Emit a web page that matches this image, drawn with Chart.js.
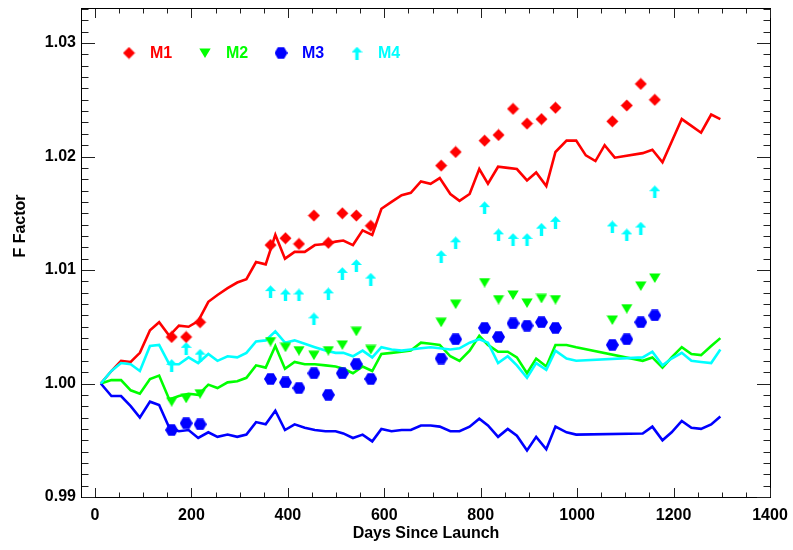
<!DOCTYPE html>
<html><head><meta charset="utf-8">
<script src="https://cdn.jsdelivr.net/npm/chart.js@4.4.1/dist/chart.umd.min.js"></script>
<style>html,body{margin:0;padding:0;background:#fff;}canvas{display:block;}</style>
</head><body>
<canvas id="c" width="793" height="550"></canvas>
<script>
// ---------- data ----------
const seriesNames = ['M1', 'M2', 'M3', 'M4'];
const seriesColors = ['#ff0000', '#00ff00', '#0000ff', '#00ffff'];

const lineDaysM1 = [12,34,54,74,93,114,133,154,174,194,214,235,254,275,295,314,334,354,374,394,414,435,456,478,499,515,535,555,575,594,615,636,655,676,696,715,737,756,777,797,815,836,856,875,896,915,936,955,978,998,1018,1038,1057,1078,1136,1156,1177,1196,1217,1237,1257,1278,1297];
const lineM1 = [1.0000,1.0011,1.0020,1.0019,1.0027,1.0047,1.0054,1.0042,1.0051,1.0050,1.0055,1.0072,1.0078,1.0084,1.0089,1.0092,1.0107,1.0105,1.0131,1.0110,1.0116,1.0116,1.0122,1.0123,1.0125,1.0126,1.0122,1.0135,1.0131,1.0154,1.0160,1.0166,1.0168,1.0178,1.0176,1.0181,1.0167,1.0161,1.0167,1.0189,1.0176,1.0191,1.0190,1.0189,1.0179,1.0186,1.0174,1.0204,1.0214,1.0214,1.0201,1.0196,1.0210,1.0199,1.0203,1.0206,1.0195,1.0213,1.0233,1.0227,1.0221,1.0237,1.0233];

const lineDays = [12,34,54,74,93,114,133,154,174,194,214,235,254,275,295,314,334,354,374,394,414,435,456,478,499,515,535,555,575,594,615,636,655,676,696,715,737,756,777,797,815,836,856,875,896,915,936,955,978,998,1136,1156,1177,1196,1217,1237,1257,1278,1297];
const lineM2 = [1.0000,1.0003,1.0003,0.9994,0.9991,1.0004,1.0007,0.9986,0.9989,0.9991,0.9990,0.9999,0.9996,1.0001,1.0002,1.0005,1.0016,1.0014,1.0033,1.0013,1.0019,1.0017,1.0017,1.0016,1.0015,1.0013,1.0009,1.0015,1.0011,1.0026,1.0027,1.0028,1.0029,1.0036,1.0035,1.0034,1.0024,1.0020,1.0029,1.0042,1.0034,1.0028,1.0028,1.0023,1.0009,1.0022,1.0015,1.0034,1.0034,1.0032,1.0020,1.0023,1.0014,1.0023,1.0032,1.0026,1.0025,1.0033,1.0040];
const lineM3 = [1.0000,0.9989,0.9989,0.9980,0.9970,0.9984,0.9981,0.9961,0.9958,0.9959,0.9952,0.9957,0.9953,0.9955,0.9953,0.9955,0.9966,0.9964,0.9976,0.9959,0.9964,0.9961,0.9959,0.9958,0.9958,0.9956,0.9952,0.9955,0.9949,0.9960,0.9958,0.9959,0.9959,0.9963,0.9963,0.9962,0.9958,0.9958,0.9962,0.9969,0.9963,0.9953,0.9960,0.9954,0.9941,0.9953,0.9942,0.9962,0.9957,0.9955,0.9956,0.9962,0.9950,0.9957,0.9967,0.9961,0.9960,0.9964,0.9971];
const lineM4 = [1.0000,1.0011,1.0018,1.0017,1.0011,1.0033,1.0034,1.0017,1.0017,1.0023,1.0018,1.0026,1.0020,1.0024,1.0023,1.0027,1.0037,1.0038,1.0046,1.0036,1.0038,1.0035,1.0032,1.0029,1.0027,1.0027,1.0024,1.0029,1.0023,1.0032,1.0030,1.0029,1.0030,1.0031,1.0032,1.0031,1.0030,1.0031,1.0036,1.0039,1.0036,1.0018,1.0024,1.0016,1.0005,1.0018,1.0012,1.0029,1.0022,1.0020,1.0023,1.0028,1.0016,1.0022,1.0027,1.0020,1.0019,1.0018,1.0030];

const markDays = [159,189,218,364,395,423,454,484,513,542,572,718,748,808,837,867,896,926,955,1073,1103,1132,1161];
const markM1 = [1.0041,1.0041,1.0054,1.0122,1.0128,1.0123,1.0148,1.0124,1.0150,1.0148,1.0139,1.0192,1.0204,1.0214,1.0219,1.0242,1.0229,1.0233,1.0243,1.0231,1.0245,1.0264,1.0250];
const markM2 = [0.9984,0.9987,0.9991,1.0037,1.0032,1.0029,1.0025,1.0029,1.0034,1.0046,1.0030,1.0054,1.0070,1.0089,1.0074,1.0078,1.0071,1.0075,1.0074,1.0056,1.0066,1.0086,1.0093];
const markM3 = [0.9959,0.9965,0.9964,1.0004,1.0001,0.9996,1.0009,0.9990,1.0009,1.0017,1.0004,1.0022,1.0039,1.0049,1.0041,1.0053,1.0051,1.0054,1.0049,1.0034,1.0039,1.0054,1.0060];
const markM4 = [1.0016,1.0031,1.0025,1.0081,1.0078,1.0078,1.0057,1.0079,1.0097,1.0104,1.0092,1.0112,1.0124,1.0155,1.0131,1.0127,1.0127,1.0136,1.0142,1.0138,1.0131,1.0137,1.0169];

const xTickValues = [0,200,400,600,800,1000,1200,1400];
const yTickValues = [0.99,1.00,1.01,1.02,1.03];
const xTitle = 'Days Since Launch';
const yTitle = 'F Factor';

// ---------- marker shapes ----------
function makeCanvas(w, h, color, pts, extra) {
  const c = document.createElement('canvas');
  c.width = w; c.height = h;
  const g = c.getContext('2d');
  g.fillStyle = color;
  g.beginPath();
  pts.forEach((p, i) => i ? g.lineTo(p[0], p[1]) : g.moveTo(p[0], p[1]));
  g.closePath(); g.fill();
  if (extra) extra(g);
  return c;
}
const diamondImg = makeCanvas(13, 13, seriesColors[0], [[6.5,0.5],[12.5,6.5],[6.5,12.5],[0.5,6.5]]);
const triImg = makeCanvas(12, 10, seriesColors[1], [[0.3,0.5],[11.7,0.5],[6,10]]);
const hexImg = makeCanvas(13, 12, seriesColors[2], [[0,6],[3.3,0.3],[9.7,0.3],[13,6],[9.7,11.7],[3.3,11.7]]);
const arrowImg = makeCanvas(11, 13, seriesColors[3], [[0,6],[5.5,0.3],[11,6]], g => { g.fillRect(3.8, 5, 3.4, 8); });
const markerImgs = [diamondImg, triImg, hexImg, arrowImg];

const pairs = (xs, ys) => xs.map((d, i) => ({x: d, y: ys[i]}));
const lineSets = [[lineDaysM1, lineM1], [lineDays, lineM2], [lineDays, lineM3], [lineDays, lineM4]];
const markSets = [markM1, markM2, markM3, markM4];

const FONT = '"Liberation Sans", Arial, Helvetica, sans-serif';

const datasets = [];
markSets.forEach((vals, i) => {
  datasets.push({
    label: seriesNames[i], data: pairs(markDays, vals), showLine: false,
    pointStyle: markerImgs[i], pointRadius: 6, pointHoverRadius: 6,
    backgroundColor: seriesColors[i], borderColor: seriesColors[i], order: i + 1
  });
});
lineSets.forEach((s, i) => {
  datasets.push({
    label: seriesNames[i] + ' line', data: pairs(s[0], s[1]), showLine: true,
    pointRadius: 0, borderColor: seriesColors[i], borderWidth: 2.6, tension: 0,
    fill: false, order: 8 - i
  });
});

// ---------- plugins: frame with inward ticks, legend, y title ----------
const framePlugin = {
  id: 'frame',
  afterDatasetsDraw(chart) {
    const {ctx, chartArea: a, scales: {x, y}} = chart;
    ctx.save();
    ctx.strokeStyle = '#000'; ctx.lineWidth = 1;
    ctx.strokeRect(Math.round(a.left) - 0.5, Math.round(a.top) - 0.5, Math.round(a.right - a.left) + 1, Math.round(a.bottom - a.top) + 1);
    ctx.strokeStyle = '#222';
    ctx.beginPath();
    for (let v = 0; v <= 1400; v += 50) {
      const px = Math.round(x.getPixelForValue(v)) + 0.5;
      const len = v % 200 === 0 ? 9 : 4.5;
      ctx.moveTo(px, a.bottom); ctx.lineTo(px, a.bottom - len);
      ctx.moveTo(px, a.top); ctx.lineTo(px, a.top + len);
    }
    for (let k = 990; k <= 1033; k++) {
      const py = Math.round(y.getPixelForValue(k / 1000)) + 0.5;
      const len = k % 10 === 0 ? 13 : 6.5;
      ctx.moveTo(a.left, py); ctx.lineTo(a.left + len, py);
      ctx.moveTo(a.right, py); ctx.lineTo(a.right - len, py);
    }
    ctx.stroke();
    // legend
    ctx.font = 'bold 16px ' + FONT;
    ctx.textBaseline = 'middle'; ctx.textAlign = 'left';
    seriesNames.forEach((n, i) => {
      const mx = 129 + i * 76, my = 53;
      const img = markerImgs[i];
      ctx.drawImage(img, mx - img.width / 2, my - img.height / 2);
      ctx.fillStyle = seriesColors[i];
      ctx.fillText(n, 150 + i * 76, my + 1);
    });
    // y title
    ctx.fillStyle = '#000';
    ctx.translate(21, 226);
    ctx.rotate(-Math.PI / 2);
    ctx.textAlign = 'center';
    ctx.fillText(yTitle, 0, 0);
    ctx.restore();
  }
};

new Chart(document.getElementById('c'), {
  type: 'scatter',
  data: {datasets},
  options: {
    responsive: false, animation: false, devicePixelRatio: 1,
    layout: {padding: {top: 9, right: 23, left: 0, bottom: 0}},
    plugins: {legend: {display: false}, tooltip: {enabled: false}},
    scales: {
      x: {
        type: 'linear', min: -27, max: 1400,
        afterBuildTicks: s => { s.ticks = xTickValues.map(v => ({value: v})); },
        ticks: {stepSize: 200, includeBounds: false, autoSkip: false, maxRotation: 0, padding: 9,
          color: '#000', font: {family: FONT, size: 16, weight: 'bold'}, callback: v => String(v)},
        grid: {display: false, drawTicks: false}, border: {display: false},
        title: {display: true, text: xTitle, color: '#000', font: {family: FONT, size: 16, weight: 'bold'}, padding: {top: 0, bottom: 7}},
        afterFit: s => { s.height = 53; s.paddingLeft = 0; s.paddingRight = 0; s.paddingTop = 0; s.paddingBottom = 0; }
      },
      y: {
        type: 'linear', min: 0.99, max: 1.033,
        afterBuildTicks: s => { s.ticks = yTickValues.map(v => ({value: v})); },
        ticks: {stepSize: 0.01, includeBounds: false, autoSkip: false, padding: 6,
          color: '#000', font: {family: FONT, size: 16, weight: 'bold'}, callback: v => v.toFixed(2)},
        grid: {display: false, drawTicks: false}, border: {display: false},
        afterFit: s => { s.width = 82; s.paddingLeft = 0; s.paddingRight = 0; s.paddingTop = 0; s.paddingBottom = 0; }
      }
    }
  },
  plugins: [framePlugin]
});
</script>
</body></html>
